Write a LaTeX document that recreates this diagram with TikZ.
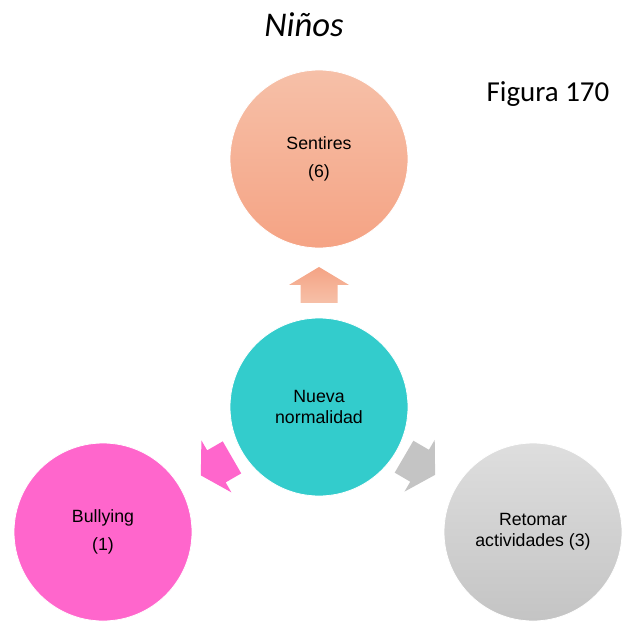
\documentclass[tikz,border=0pt]{standalone}
\usepackage{fontspec}
\setmainfont{Liberation Sans}
\newfontfamily\carlito{Carlito}
\usepackage{tikz}
\usetikzlibrary{calc,positioning}
\definecolor{salmonTop}{RGB}{246,192,168}
\definecolor{salmonBot}{RGB}{245,163,132}
\definecolor{tealC}{RGB}{51,204,204}
\definecolor{pinkC}{RGB}{255,102,204}
\definecolor{greyTop}{RGB}{222,222,222}
\definecolor{greyBot}{RGB}{196,196,196}
\tikzset{
  bubble/.style={circle,minimum size=133.5pt,inner sep=0pt,draw=white,line width=0.6pt,
    align=center,font=\fontsize{13.3}{16}\selectfont},
  % block arrow drawn along local x axis, centred on origin
  blockarr/.pic={\path[pic actions] (-18,-18.5)--(0,-18.5)--(0,-30)--(18,0)--(0,30)--(0,18.5)--(-18,18.5)--cycle;}
}
\begin{document}
\begin{tikzpicture}[x=0.75pt,y=0.75pt]
\useasboundingbox (0,0) rectangle (625,-635);
\node[font=\carlito\itshape\fontsize{26}{30}\selectfont] (title) at (304,-25) {Niños};
\node[font=\carlito\fontsize{21.7}{26}\selectfont] (fig) at (548,-94) {Figura 170};

\node[bubble,top color=salmonTop,bottom color=salmonBot] (sentires) at (319,-159) {Sentires\\[5pt](6)};
\node[bubble,fill=tealC] (nueva) at (319,-407) {Nueva\\normalidad};
\node[bubble,fill=pinkC] (bullying) at (103,-532) {Bullying\\[5pt](1)};
\node[bubble,top color=greyTop,bottom color=greyBot] (retomar) at (533,-532) {Retomar\\actividades (3)};

% arrows out of the centre
\coordinate (aUp) at ($(nueva)!0.492!(sentires)$);
\coordinate (aLeft) at ($(nueva)!0.475!(bullying)$);
\coordinate (aRight) at ($(nueva)!0.47!(retomar)$);
\pic[rotate=90,top color=salmonBot,bottom color=salmonTop,shading angle=0] at (aUp) {blockarr};
\pic[rotate=210,fill=pinkC] at (aLeft) {blockarr};
\pic[rotate=-30.3,fill=greyBot] at (aRight) {blockarr};
\end{tikzpicture}
\end{document}
